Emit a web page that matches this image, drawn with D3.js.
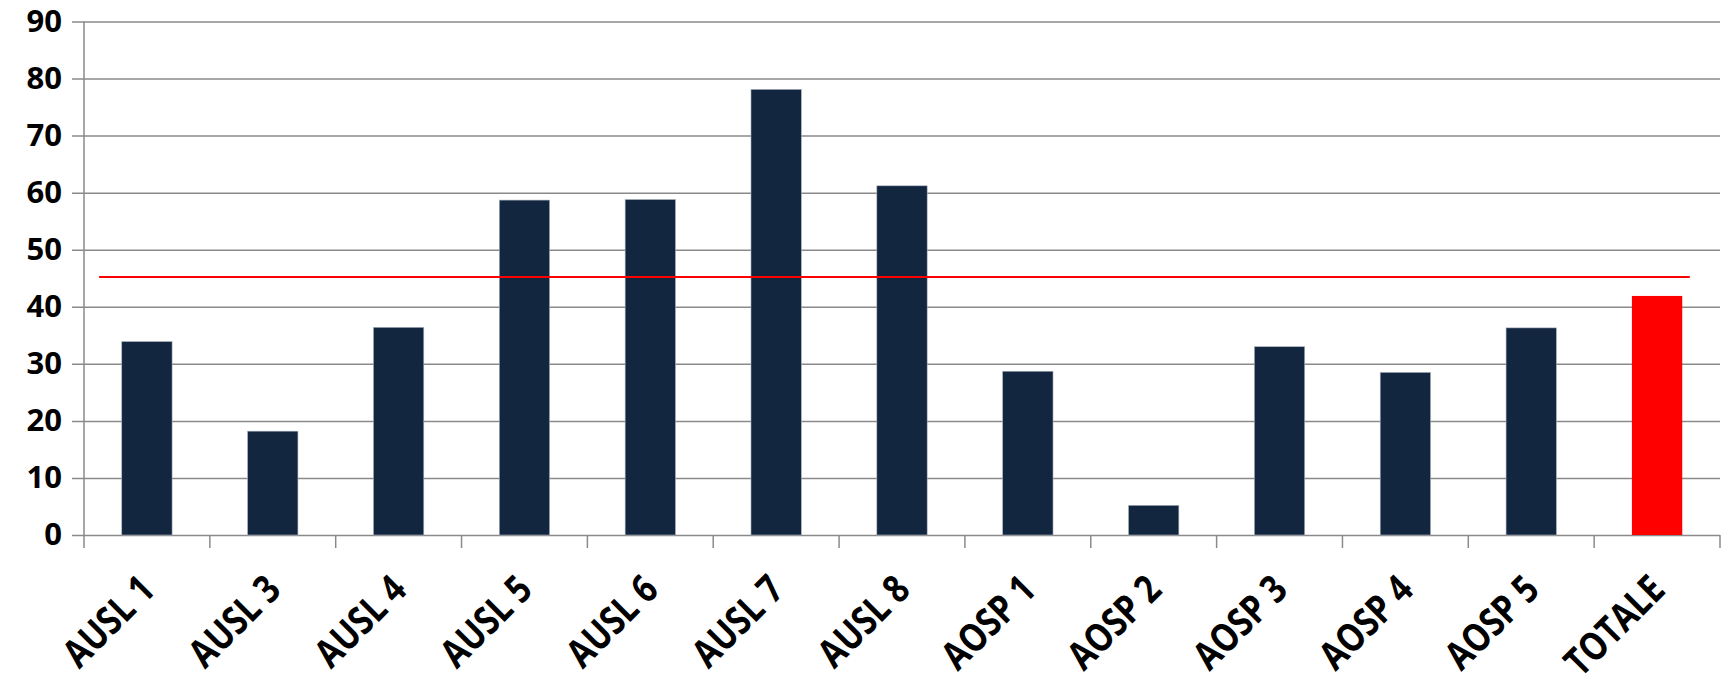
<!DOCTYPE html>
<html>
<head>
<meta charset="utf-8">
<script src="https://cdn.jsdelivr.net/npm/d3@7"></script>
<style>
  body { margin: 0; background: #fff; }
  text { font-family: "Open Sans", sans-serif; font-weight: bold; fill: #000; }
</style>
</head>
<body>
<div class="chart"></div>
<script>
const categories = ['AUSL 1', 'AUSL 3', 'AUSL 4', 'AUSL 5', 'AUSL 6', 'AUSL 7', 'AUSL 8',
                    'AOSP 1', 'AOSP 2', 'AOSP 3', 'AOSP 4', 'AOSP 5', 'TOTALE']
const values = [33.9, 18.2, 36.4, 58.7, 58.8, 78.1, 61.2, 28.7, 5.2, 33.0, 28.5, 36.3, 41.9]
const yTicks = [0, 10, 20, 30, 40, 50, 60, 70, 80, 90]
const refValue = 45.2

const W = 1733, H = 686
const margin = {top: 21.5, right: 13, bottom: 151, left: 84}
const width = W - margin.left - margin.right
const height = H - margin.top - margin.bottom

const svg = d3.select('.chart').append('svg')
  .attr('width', W)
  .attr('height', H)
const g = svg.append('g')
  .attr('transform', 'translate(' + margin.left + ',' + margin.top + ')')

const x = d3.scaleBand().domain(categories).range([0, width]).padding(0)
const y = d3.scaleLinear().domain([0, 90]).range([height, 0])

// gridlines + y axis
const yAxis = g.append('g')
  .call(d3.axisLeft(y).tickValues(yTicks).tickSize(-width).tickPadding(22))
yAxis.select('.domain').remove()
yAxis.selectAll('.tick line')
  .attr('x1', -12)
  .attr('stroke', '#8a8a8a')
  .attr('stroke-width', 1.5)
yAxis.selectAll('.tick text')
  .style('font-size', '31px')

g.append('line')
  .attr('x1', 0).attr('x2', 0)
  .attr('y1', 0).attr('y2', height)
  .attr('stroke', '#8a8a8a').attr('stroke-width', 1.5)

// x ticks at band edges
const edges = categories.map(c => x(c)).concat([width])
g.selectAll('.xtick')
  .data(edges)
  .enter()
  .append('line')
    .attr('x1', d => d).attr('x2', d => d)
    .attr('y1', height).attr('y2', height + 13)
    .attr('stroke', '#8a8a8a').attr('stroke-width', 1.5)

// bars
const barW = x.bandwidth() * 0.4
g.selectAll('.bar')
  .data(values)
  .enter()
  .append('rect')
    .attr('x', (d, i) => x(categories[i]) + (x.bandwidth() - barW) / 2)
    .attr('y', d => y(d))
    .attr('width', barW)
    .attr('height', d => height - y(d))
    .attr('fill', (d, i) => categories[i] === 'TOTALE' ? '#ff0000' : '#132640')
    .attr('stroke', (d, i) => categories[i] === 'TOTALE' ? 'none' : '#aab3bf')
    .attr('stroke-width', 0.6)

// reference line
g.append('line')
  .attr('x1', x(categories[0]) + x.bandwidth() * 0.12)
  .attr('x2', x(categories[categories.length - 1]) + x.bandwidth() * 0.76)
  .attr('y1', y(refValue)).attr('y2', y(refValue))
  .attr('stroke', '#ff0000').attr('stroke-width', 2)

// x labels, rotated (squeezed a bit, the original font is narrower)
g.selectAll('.xlabel')
  .data(categories)
  .enter()
  .append('text')
    .attr('text-anchor', 'end')
    .style('font-size', '39px')
    .attr('transform', d => 'translate(' + (x(d) + x.bandwidth() / 2 + 10) + ',' + (height + 57) + ') rotate(-45) scale(0.83,1)')
    .text(d => d)
</script>
</body>
</html>
